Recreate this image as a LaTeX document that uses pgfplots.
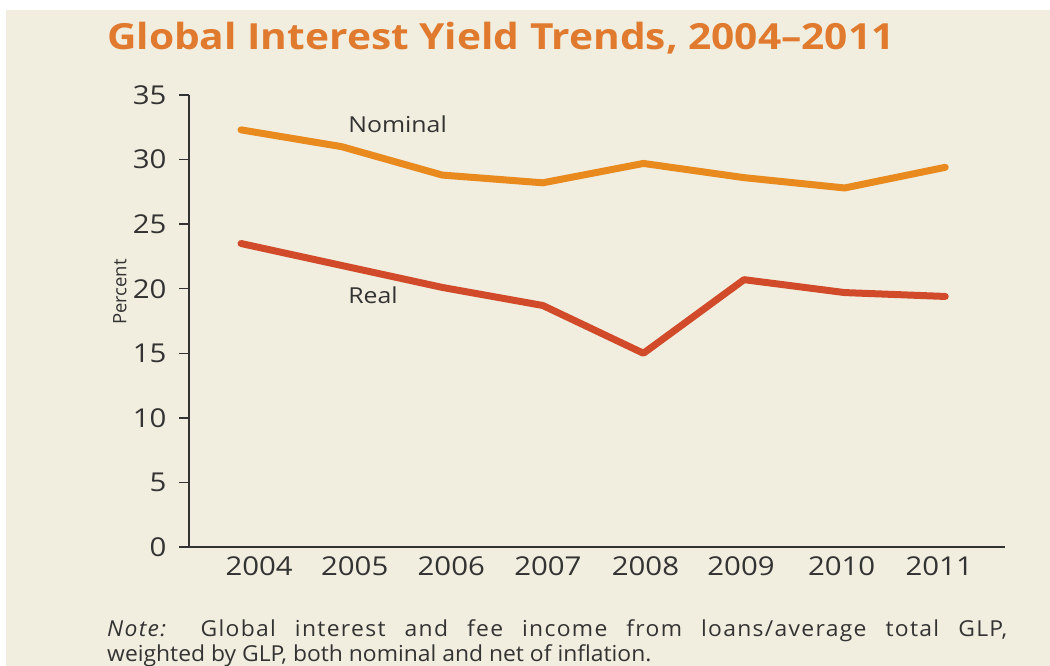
\documentclass[border=0pt]{standalone}
\usepackage{fontspec}
\setmainfont{Open Sans}
\newfontfamily\widefont[FakeStretch=1.13,Ligatures=TeX]{Open Sans}
\newfontfamily\notefont[FakeStretch=1.04,Ligatures=TeX]{Open Sans}
\usepackage{pgfplots}
\pgfplotsset{compat=1.18}
\definecolor{bg}{HTML}{F2EEDF}
\definecolor{nomc}{HTML}{E88A1E}
\definecolor{realc}{HTML}{D14B2B}
\definecolor{titlec}{HTML}{E07A2E}
\definecolor{txtc}{HTML}{333333}
\begin{document}
\begin{tikzpicture}[x=1pt,y=1pt]
\useasboundingbox (0,0) rectangle (1050,666);
\fill[white] (0,0) rectangle (1050,666);
\fill[bg] (6,0) rectangle (1050,656);
\node[anchor=base west, inner sep=0pt, text=titlec, font=\widefont\fontsize{36}{38}\selectfont\bfseries] at (107,616) {Global Interest Yield Trends, 2004–2011};
\begin{axis}[
  at={(189pt,119pt)}, anchor=south west,
  scale only axis, width=816pt, height=452pt,
  xmin=-0.517, xmax=7.594, ymin=0, ymax=35,
  axis lines*=left,
  axis line style={draw=txtc, line width=1.8pt},
  xtick={0.18,1.13,2.09,3.05,4.02,4.97,5.97,6.94},
  xticklabels={2004,2005,2006,2007,2008,2009,2010,2011},
  x tick style={draw=none},
  ytick={0,5,...,35},
  tick align=outside,
  y tick style={draw=txtc, line width=1.5pt},
  major tick length=10pt,
  /pgf/number format/assume math mode=true,
  ticklabel style={font=\widefont\fontsize{26}{30}\selectfont, text=txtc},
  xticklabel style={anchor=base, yshift=-19pt},
  yticklabel style={anchor=east, xshift=-9pt},
  ylabel={Percent},
  every axis y label/.style={at={(axis description cs:-0.0846,0.564)}, rotate=90, anchor=center, font=\fontsize{18.5}{20}\selectfont, text=txtc},
  clip=false,
]
\addplot[nomc, line width=7pt, line join=round, line cap=round] coordinates {
(0,32.3) (1,31.0) (2,28.8) (3,28.2) (4,29.7) (5,28.6) (6,27.8) (7,29.4)};
\addplot[realc, line width=7pt, line join=round, line cap=round] coordinates {
(0,23.5) (1,21.8) (2,20.1) (3,18.7) (4,15.0) (5,20.7) (6,19.7) (7,19.4)};
\node[anchor=west, inner sep=0pt, text=txtc, font=\widefont\fontsize{22}{24}\selectfont] at (axis cs:1.064,32.7) {Nominal};
\node[anchor=west, inner sep=0pt, text=txtc, font=\widefont\fontsize{22}{24}\selectfont] at (axis cs:1.064,19.5) {Real};
\end{axis}
\node[anchor=base west, inner sep=0pt, text=txtc, font=\notefont\fontsize{22}{26}\selectfont\addfontfeature{LetterSpace=6}] at (107,29) {\makebox[900pt][s]{\textit{Note:} Global interest and fee income from loans/average total GLP,}};
\node[anchor=base west, inner sep=0pt, text=txtc, font=\notefont\fontsize{22}{26}\selectfont] at (107,4) {weighted by GLP, both nominal and net of inflation.};
\end{tikzpicture}
\end{document}
